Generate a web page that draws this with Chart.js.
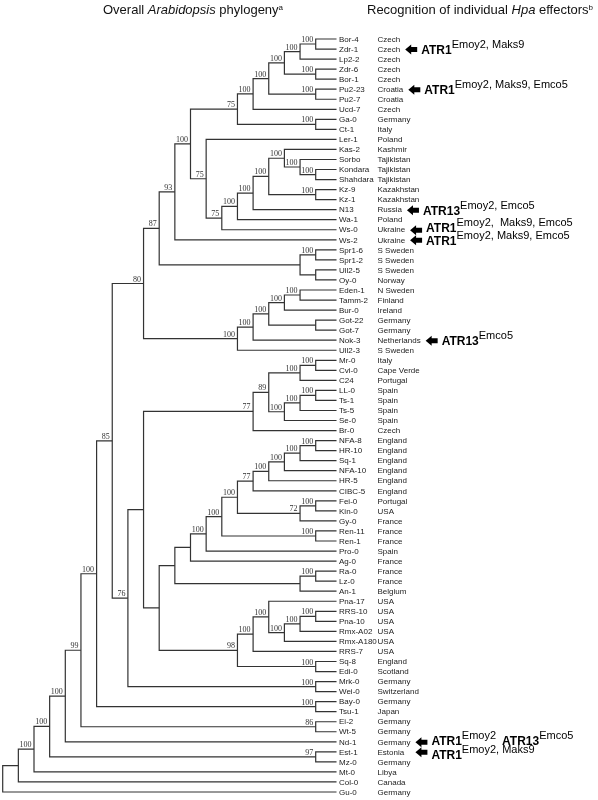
<!DOCTYPE html>
<html>
<head>
<meta charset="utf-8">
<script src="https://cdn.jsdelivr.net/npm/chart.js@4.4.1/dist/chart.umd.min.js"></script>
<style>
  html, body { margin: 0; padding: 0; background: #fff; }
</style>
</head>
<body>
<canvas id="tree" width="598" height="800"></canvas>
<script>
// accessions, top to bottom
const accessions = ['Bor-4','Zdr-1','Lp2-2','Zdr-6','Bor-1','Pu2-23','Pu2-7','Ucd-7','Ga-0','Ct-1',
  'Ler-1','Kas-2','Sorbo','Kondara','Shahdara','Kz-9','Kz-1','N13','Wa-1','Ws-0','Ws-2',
  'Spr1-6','Spr1-2','Ull2-5','Oy-0','Eden-1','Tamm-2','Bur-0','Got-22','Got-7','Nok-3','Ull2-3',
  'Mr-0','Cvi-0','C24','LL-0','Ts-1','Ts-5','Se-0','Br-0','NFA-8','HR-10','Sq-1','NFA-10','HR-5',
  'CIBC-5','Fei-0','Kin-0','Gy-0','Ren-11','Ren-1','Pro-0','Ag-0','Ra-0','Lz-0','An-1','Pna-17',
  'RRS-10','Pna-10','Rmx-A02','Rmx-A180','RRS-7','Sq-8','Edi-0','Mrk-0','Wei-0','Bay-0','Tsu-1',
  'Ei-2','Wt-5','Nd-1','Est-1','Mz-0','Mt-0','Col-0','Gu-0'];

const countries = ['Czech','Czech','Czech','Czech','Czech','Croatia','Croatia','Czech','Germany','Italy',
  'Poland','Kashmir','Tajikistan','Tajikistan','Tajikistan','Kazakhstan','Kazakhstan','Russia','Poland','Ukraine','Ukraine',
  'S Sweden','S Sweden','S Sweden','Norway','N Sweden','Finland','Ireland','Germany','Germany','Netherlands','S Sweden',
  'Italy','Cape Verde','Portugal','Spain','Spain','Spain','Spain','Czech','England','England','England','England','England',
  'England','Portugal','USA','France','France','France','Spain','France','France','France','Belgium','USA',
  'USA','USA','USA','USA','USA','England','Scotland','Germany','Switzerland','Germany','Japan',
  'Germany','Germany','Germany','Estonia','Germany','Libya','Canada','Germany'];

// topology: (child,child)bootstrap@cladogram depth
const clades = {
  czech: '((((((Bor-4,Zdr-1)100@20,Lp2-2)100@19,(Zdr-6,Bor-1)100@20)100@18,(Pu2-23,Pu2-7)100@20)100@17,Ucd-7)100@16,(Ga-0,Ct-1)100@20)75@15',
  asia: '(Ler-1,(((((Kas-2,(Sorbo,(Kondara,Shahdara)100@20)100@19)100@18,(Kz-9,Kz-1)100@20)100@17,N13)100@16,Wa-1)100@15,Ws-0)75@14)75@13',
  sweden: '((Spr1-6,Spr1-2)100@20,(Ull2-5,Oy-0)@20)@19',
  north: '(((((Eden-1,Tamm-2)100@19,Bur-0)100@18,(Got-22,Got-7)@20)100@17,Nok-3)100@16,Ull2-3)100@15',
  south: '((((Mr-0,Cvi-0)100@20,C24)100@19,(((LL-0,Ts-1)100@20,Ts-5)100@19,Se-0)100@18)89@17,Br-0)77@16',
  west: '((((((((((NFA-8,HR-10)100@20,Sq-1)100@19,NFA-10)100@18,HR-5)100@17,CIBC-5)77@16,((Fei-0,Kin-0)100@20,Gy-0)72@19)100@15,(Ren-11,Ren-1)100@20)100@14,Pro-0)100@13,Ag-0)@12,((Ra-0,Lz-0)100@20,An-1)@19)@11',
  usa: '(((Pna-17,(((RRS-10,Pna-10)100@20,Rmx-A02)100@19,Rmx-A180)100@18)100@17,RRS-7)100@16,(Sq-8,Edi-0)100@20)98@15'
};
const newick = '((((((((((((' + clades.czech + ',' + clades.asia + ')100@12,Ws-2)93@11,' + clades.sweden + ')87@10,' +
  clades.north + ')80@9,((' + clades.south + ',(' + clades.west + ',' + clades.usa + ')@10)@9,(Mrk-0,Wei-0)100@20)76@8)85@7,' +
  '(Bay-0,Tsu-1)100@20)100@6,(Ei-2,Wt-5)86@20)99@5,Nd-1)100@4,(Est-1,Mz-0)97@20)100@3,Mt-0)100@2,Col-0)@1,Gu-0)@0';

// recognised effectors per accession
const annotated = ['Zdr-1','Pu2-23','N13','Ws-0','Ws-2','Nok-3','Nd-1','Est-1'];
const effectors = [
  [['ATR1','Emoy2, Maks9']],
  [['ATR1','Emoy2, Maks9, Emco5']],
  [['ATR13','Emoy2, Emco5']],
  [['ATR1','Emoy2,  Maks9, Emco5']],
  [['ATR1','Emoy2, Maks9, Emco5']],
  [['ATR13','Emco5']],
  [['ATR1','Emoy2'], ['ATR13','Emco5']],
  [['ATR1','Emoy2, Maks9']]
];

const TIP = 21.33;
const lineColor = '#333';
const textNudge = { 'Ws-0': -3, 'Nd-1': -1.5, 'Est-1': 2 };   // px, keeps crowded rows legible

function parseTree(str) {
  let pos = 0;
  function node() {
    if (str[pos] === '(') {
      pos++;
      const kids = [node()];
      while (str[pos] === ',') { pos++; kids.push(node()); }
      pos++;
      let sup = '';
      while (/\d/.test(str[pos])) sup += str[pos++];
      pos++;
      let d = '';
      while (pos < str.length && /\d/.test(str[pos])) d += str[pos++];
      return { kids, support: sup, x: +d };
    }
    let name = '';
    while (pos < str.length && !',()'.includes(str[pos])) name += str[pos++];
    return { name, x: TIP, y: accessions.indexOf(name) + 1 };
  }
  return node();
}

const root = parseTree(newick);
const internals = [];
(function place(n) {
  if (!n.kids) return;
  n.kids.forEach(place);
  n.y = (n.kids[0].y + n.kids[n.kids.length - 1].y) / 2;
  internals.push(n);
})(root);

// one bracket per internal node
const datasets = internals.map(n => {
  const a = n.kids[0], b = n.kids[n.kids.length - 1];
  return {
    data: [{x: a.x, y: a.y}, {x: n.x, y: a.y}, {x: n.x, y: b.y}, {x: b.x, y: b.y}],
    showLine: true,
    borderColor: lineColor,
    borderWidth: 1.2,
    pointRadius: 0,
    tension: 0
  };
});

const labelsPlugin = {
  id: 'treeText',
  afterDatasetsDraw(chart) {
    const ctx = chart.ctx;
    const xs = chart.scales.x, ys = chart.scales.y;
    ctx.save();
    // bootstrap values
    ctx.fillStyle = '#333';
    ctx.font = '8px "Liberation Serif"';
    ctx.textAlign = 'right';
    ctx.textBaseline = 'alphabetic';
    internals.forEach(n => {
      if (n.support) ctx.fillText(n.support, xs.getPixelForValue(n.x) - 2.5, ys.getPixelForValue(n.y) - 2);
    });
    // accessions and countries
    ctx.textAlign = 'left';
    ctx.textBaseline = 'middle';
    ctx.font = '8px "Liberation Sans"';
    ctx.fillStyle = '#222';
    const tipPx = xs.getPixelForValue(TIP);
    const countryEnds = [];
    accessions.forEach((name, i) => {
      const y = ys.getPixelForValue(i + 1) + 0.5;
      ctx.fillText(name, tipPx + 2.5, y);
      ctx.fillText(countries[i], tipPx + 41, y);
      countryEnds.push(tipPx + 41 + ctx.measureText(countries[i]).width);
    });
    // titles
    ctx.textBaseline = 'alphabetic';
    ctx.fillStyle = '#111';
    function runs(x, y, parts) {
      parts.forEach(([txt, font, dy]) => {
        ctx.font = font;
        ctx.fillText(txt, x, y + (dy || 0));
        x += ctx.measureText(txt).width;
      });
      return x;
    }
    runs(103, 14, [['Overall ', '13px "Liberation Sans"'], ['Arabidopsis', 'italic 13px "Liberation Sans"'],
      [' phylogeny', '13px "Liberation Sans"'], ['a', '8px "Liberation Sans"', -4]]);
    runs(367, 14, [['Recognition of individual ', '13px "Liberation Sans"'], ['Hpa', 'italic 13px "Liberation Sans"'],
      [' effectors', '13px "Liberation Sans"'], ['b', '8px "Liberation Sans"', -4]]);
    // arrows + effectors
    ctx.fillStyle = '#000';
    annotated.forEach((name, k) => {
      const i = accessions.indexOf(name);
      let end = countryEnds[i];
      if (annotated.includes(accessions[i - 1])) end = Math.max(end, countryEnds[i - 1]);
      if (annotated.includes(accessions[i + 1])) end = Math.max(end, countryEnds[i + 1]);
      const x0 = end + 5;
      const y = ys.getPixelForValue(i + 1) + 0.5;
      ctx.beginPath();
      ctx.moveTo(x0, y);
      ctx.lineTo(x0 + 6, y - 5);
      ctx.lineTo(x0 + 6, y - 2.5);
      ctx.lineTo(x0 + 12, y - 2.5);
      ctx.lineTo(x0 + 12, y + 2.5);
      ctx.lineTo(x0 + 6, y + 2.5);
      ctx.lineTo(x0 + 6, y + 5);
      ctx.closePath();
      ctx.fill();
      let x = x0 + 16;
      const ty = y + 4.5 + (textNudge[name] || 0);
      effectors[k].forEach(([gene, isolates]) => {
        x = runs(x, ty, [[gene, 'bold 12px "Liberation Sans"'], [isolates, '11px "Liberation Sans"', -6]]);
        x += 6;
      });
    });
    ctx.restore();
  }
};

new Chart(document.getElementById('tree'), {
  type: 'scatter',
  data: { datasets: datasets },
  options: {
    responsive: false,
    animation: false,
    layout: { padding: 0 },
    plugins: { legend: { display: false }, tooltip: { enabled: false } },
    scales: {
      x: { type: 'linear', display: false, min: -0.1725, max: 38.038 },
      y: { type: 'linear', display: false, reverse: true, min: -2.8845, max: 76.796 }
    }
  },
  plugins: [labelsPlugin]
});
</script>
</body>
</html>
